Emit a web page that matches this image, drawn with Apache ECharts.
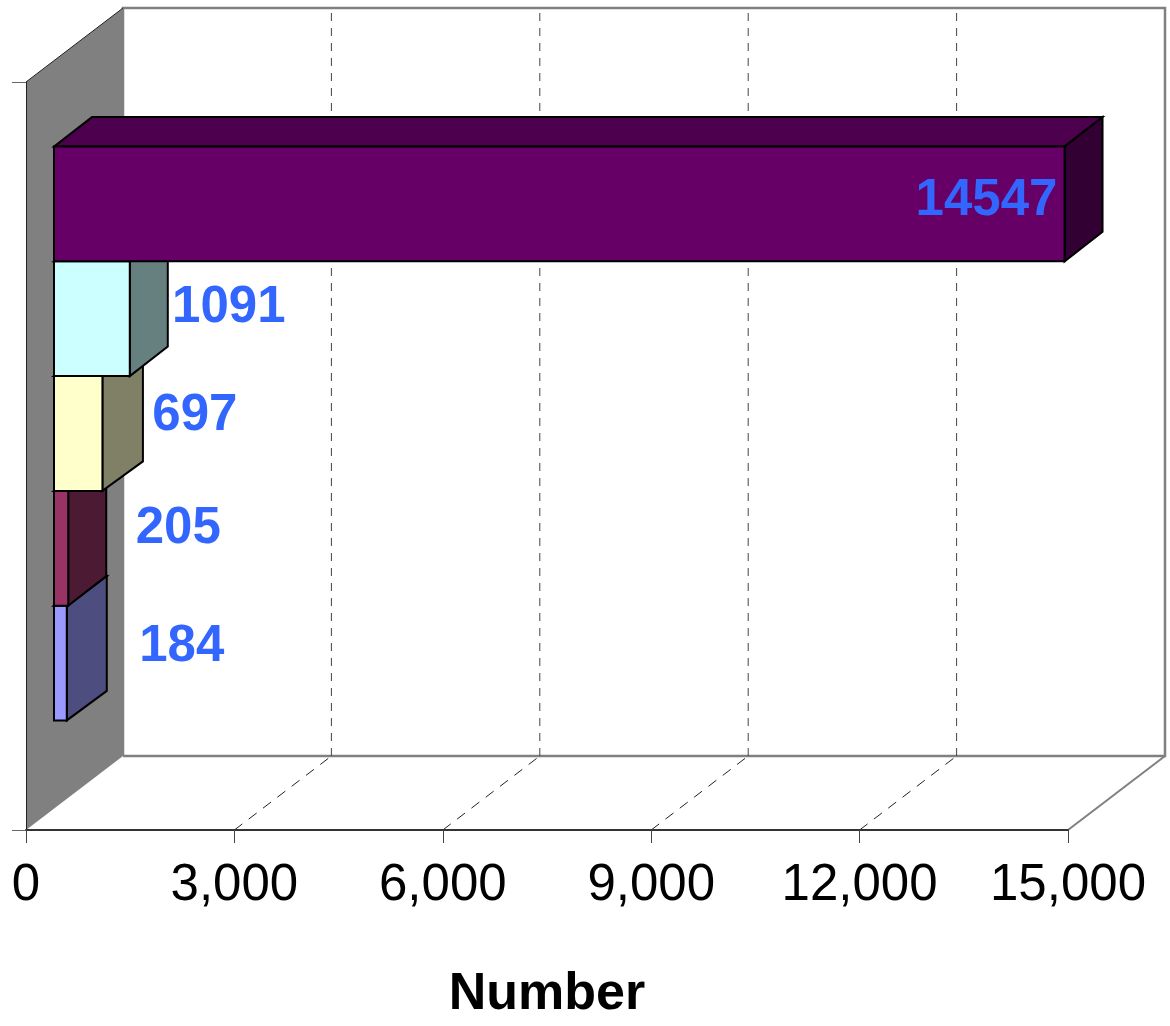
<!DOCTYPE html>
<html>
<head>
<meta charset="utf-8">
<style>html,body{margin:0;padding:0;background:#fff}#c{width:1170px;height:1026px}</style>
<script src="https://cdn.jsdelivr.net/npm/echarts@6/dist/echarts.min.js"></script>
</head>
<body>
<div id="c"></div>
<script>
// Data: one category, five series; listed bottom bar first
const categories = [''];
const values = [184, 205, 697, 1091, 14547];
const xTicks = [3000, 6000, 9000, 12000, 15000];
const xMin = 0, xMax = 15000, xInterval = 3000;
const axisName = 'Number';

// Colours
const frontColors = ['#9999FF', '#993366', '#FFFFCC', '#CCFFFF', '#660066'];
const sideColors  = ['#4D4D80', '#4D1A33', '#808066', '#668080', '#330033'];
const topColors   = ['#7A7ACC', '#7A2952', '#CCCCA3', '#A3CCCC', '#4D004D'];

// Layout of the pseudo-3D box
const wallDX = 97, wallDY = 74;
const barShiftX = 28, barShiftY = 22.5;
const barBandFrac = 116.6 / 760;
const barDepthX = [40, 38, 40.5, 38, 38];
const barDepthY = 29.5;
const labelNudgeX = [115, 110, 92.5, 99, -78];
const labelNudgeY = [-16, -19, -18, -10.5, -3];

const FONT = '"Liberation Sans", Arial, sans-serif';

function wallsItem(params, api) {
  const r = params.coordSys;
  const L = r.x, R = r.x + r.width, T = r.y, B = r.y + r.height;
  const gray = '#808080';
  return { type: 'group', children: [
    { type: 'polygon', shape: { points: [[L, T], [L + wallDX, T - wallDY], [L + wallDX, B - wallDY], [L, B]] },
      style: { fill: gray, stroke: null } },
    { type: 'polyline', shape: { points: [[L + wallDX, B - wallDY], [L + wallDX, T - wallDY], [R + wallDX, T - wallDY], [R + wallDX, B - wallDY], [L + wallDX, B - wallDY]] },
      style: { fill: null, stroke: gray, lineWidth: 2.5 } },
    { type: 'polyline', shape: { points: [[R, B], [R + wallDX, B - wallDY]] },
      style: { fill: null, stroke: gray, lineWidth: 2 } },
    { type: 'polyline', shape: { points: [[L, T], [L + wallDX, T - wallDY]] },
      style: { fill: null, stroke: '#222', lineWidth: 1 } }
  ]};
}

function gridItem(params, api) {
  const r = params.coordSys;
  const T = r.y, B = r.y + r.height;
  const x = api.coord([api.value(0), 0])[0];
  if (api.value(0) >= xMax) return { type: 'group', children: [] };
  return { type: 'group', children: [
    { type: 'polyline', shape: { points: [[x, B], [x + wallDX, B - wallDY]] },
      style: { fill: null, stroke: '#222', lineWidth: 1, lineDash: [10, 8] } },
    { type: 'polyline', shape: { points: [[x + wallDX, B - wallDY], [x + wallDX, T - wallDY]] },
      style: { fill: null, stroke: '#444', lineWidth: 1, lineDash: [8, 7] } }
  ]};
}

function barItem(params, api) {
  const i = params.dataIndex;
  const p = api.coord([api.value(0), 0]);
  const band = api.size([0, 1])[1];
  const h = band * barBandFrac;
  const stackTop = p[1] - barShiftY - h * values.length / 2;
  const top = stackTop + (values.length - 1 - i) * h;
  const bottom = top + h;
  const left = api.coord([0, 0])[0] + barShiftX;
  const right = p[0] + barShiftX;
  const dx = barDepthX[i], dy = barDepthY;
  const edge = { stroke: '#000', lineWidth: 2, lineJoin: 'miter' };
  return { type: 'group', children: [
    { type: 'polygon', shape: { points: [[left, top], [left + dx, top - dy], [right + dx, top - dy], [right, top]] },
      style: Object.assign({ fill: topColors[i] }, edge) },
    { type: 'polygon', shape: { points: [[right, top], [right + dx, top - dy], [right + dx, bottom - dy], [right, bottom]] },
      style: Object.assign({ fill: sideColors[i] }, edge) },
    { type: 'rect', shape: { x: left, y: top, width: right - left, height: h },
      style: Object.assign({ fill: frontColors[i] }, edge) }
  ]};
}

function labelItem(params, api) {
  const i = params.dataIndex;
  const p = api.coord([api.value(0), 0]);
  const band = api.size([0, 1])[1];
  const h = band * barBandFrac;
  const mid = p[1] - barShiftY - h * values.length / 2 + (values.length - 1 - i + 0.5) * h;
  return { type: 'text', style: {
    text: String(api.value(0)),
    x: p[0] + barShiftX + labelNudgeX[i], y: mid + labelNudgeY[i],
    fill: '#3366FF', font: 'bold 51px ' + FONT, align: 'center', verticalAlign: 'middle' } };
}

const chart = echarts.init(document.getElementById('c'), null, { renderer: 'canvas' });
chart.setOption({
  animation: false,
  backgroundColor: '#fff',
  tooltip: { show: false },
  grid: { left: 26, right: 102, top: 82, bottom: 184, containLabel: false },
  xAxis: {
    type: 'value', min: xMin, max: xMax, interval: xInterval, z: 3,
    name: axisName, nameLocation: 'middle', nameGap: 139,
    nameTextStyle: { fontFamily: FONT, fontSize: 52, fontWeight: 'bold', color: '#000' },
    axisLine: { show: true, onZero: false, lineStyle: { color: '#333', width: 2 } },
    axisTick: { show: true, length: 13, lineStyle: { color: '#444', width: 1 } },
    axisLabel: { show: true, margin: 30, fontFamily: FONT, fontSize: 51, color: '#000', hideOverlap: false, showMinLabel: true, showMaxLabel: true },
    splitLine: { show: false }
  },
  yAxis: {
    type: 'category', data: categories, z: 3,
    axisLine: { show: true, lineStyle: { color: '#222', width: 1 } },
    axisTick: { show: true, length: 14, lineStyle: { color: '#666', width: 1 } },
    axisLabel: { show: false },
    splitLine: { show: false }
  },
  series: [
    { type: 'custom', z: 1, silent: true, clip: false, renderItem: wallsItem, data: [[0, 0]], encode: { x: 0, y: 1 } },
    { type: 'custom', z: 2, silent: true, clip: false, renderItem: gridItem, data: xTicks.map(v => [v, 0]), encode: { x: 0, y: 1 } },
    { type: 'custom', z: 4, silent: true, clip: false, renderItem: barItem, data: values.map(v => [v, 0]), encode: { x: 0, y: 1 } },
    { type: 'custom', z: 5, silent: true, clip: false, renderItem: labelItem, data: values.map(v => [v, 0]), encode: { x: 0, y: 1 } }
  ]
});
</script>
</body>
</html>
